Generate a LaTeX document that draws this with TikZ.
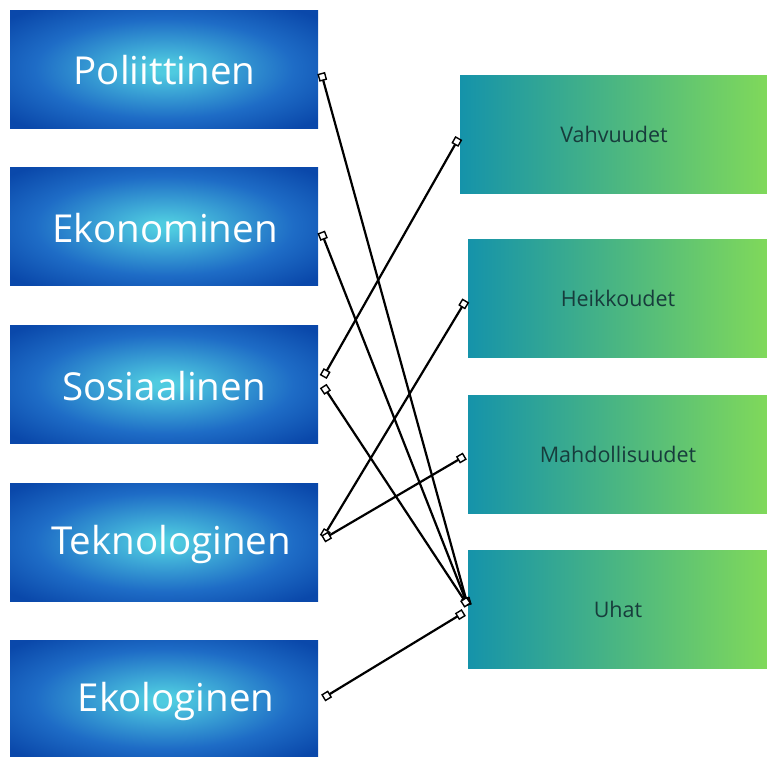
\documentclass[tikz,border=0pt]{standalone}
\usepackage{fontspec}
\setmainfont{Open Sans}
\usetikzlibrary{arrows.meta,calc}
\definecolor{cinner}{HTML}{4FCBE0}
\definecolor{cmid}{HTML}{1E6CC6}
\definecolor{couter}{HTML}{0A48AA}
\definecolor{gleft}{HTML}{1593AA}
\definecolor{gright}{HTML}{80D95A}
\definecolor{rtext}{HTML}{173C3C}
\pgfdeclareradialshading{boxrad}{\pgfpoint{0bp}{0bp}}{color(0bp)=(cinner); color(2bp)=(cinner); color(21bp)=(cmid); color(33bp)=(couter); color(50bp)=(couter)}
\tikzset{
  lbox/.style={rectangle, minimum width=308pt, minimum height=118pt, inner sep=0pt, shading=boxrad, draw=none},
  ltext/.style={text=white, font=\fontsize{38.5}{42}\selectfont, inner sep=0pt},
  rbox/.style={rectangle, minimum width=300pt, minimum height=118pt, inner sep=0pt, left color=gleft, right color=gright, draw=none, text=rtext, font=\fontsize{21.5}{25}\selectfont},
  link/.style={line width=2.2pt, black, {Square[fill=white,length=8pt,width=8pt,line width=1.4pt]}-{Square[fill=white,length=8pt,width=8pt,line width=1.4pt]}}
}
\begin{document}
\begin{tikzpicture}[x=1pt,y=-1pt]
\useasboundingbox (0,0) rectangle (767,756);
\clip (0,0) rectangle (767,756);
% left boxes
\node[lbox] (pol) at (164,69) {};
\node[ltext] (polt) at (164.5,70) {Poliittinen};
\node[lbox] (ekon) at (164,226) {};
\node[ltext] (ekont) at (165,228) {Ekonominen};
\node[lbox] (sos) at (164,384) {};
\node[ltext] (sost) at (164,386) {Sosiaalinen};
\node[lbox] (tek) at (164,542) {};
\node[ltext] (tekt) at (171,544) {Teknologinen};
\node[lbox] (ekol) at (164,699) {};
\node[ltext] (ekolt) at (176,701) {Ekologinen};
% right boxes
\node[rbox, minimum width=308pt] (vah) at (614,134) {Vahvuudet};
\node[rbox] (hei) at (618,298.5) {Heikkoudet};
\node[rbox] (mah) at (618,454) {Mahdollisuudet};
\node[rbox] (uh) at (618,609.5) {Uhat};
% endpoints
\coordinate (polo) at ($(pol.east)+(3,4)$);
\coordinate (ekono) at ($(ekon.east)+(3,6)$);
\coordinate (soso1) at ($(sos.east)+(5,-7)$);
\coordinate (soso2) at ($(sos.east)+(5,2)$);
\coordinate (teko1) at ($(tek.east)+(5,-5)$);
\coordinate (teko2) at ($(tek.east)+(5,-3)$);
\coordinate (ekolo) at ($(ekol.east)+(5,-1)$);
\coordinate (vahi) at ($(vah.west)+(-1,4)$);
\coordinate (heii) at ($(hei.west)+(-2,2)$);
\coordinate (mahi) at ($(mah.west)+(-3,2)$);
\coordinate (uhi1) at ($(uh.west)+(0,-4)$);
\coordinate (uhi2) at ($(uh.west)+(-4,3)$);
% connectors
\draw[link] (polo) -- (uhi1);
\draw[link] (ekono) -- (uhi1);
\draw[link] (soso1) -- (vahi);
\draw[link] (soso2) -- (uhi1);
\draw[link] (teko1) -- (heii);
\draw[link] (teko2) -- (mahi);
\draw[link] (ekolo) -- (uhi2);
\end{tikzpicture}
\end{document}
